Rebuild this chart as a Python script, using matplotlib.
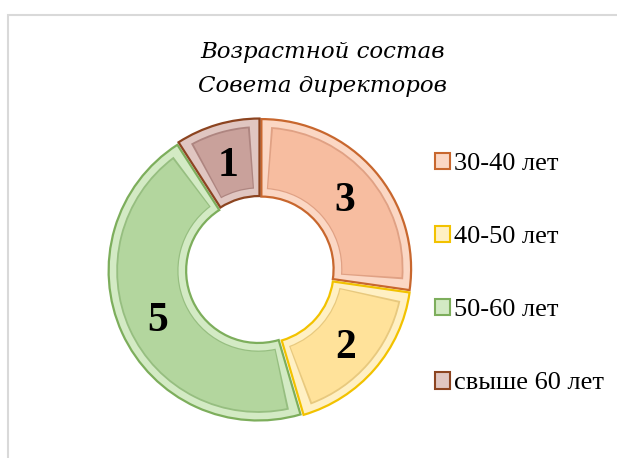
import numpy as np
import matplotlib
matplotlib.use('Agg')
from matplotlib import pyplot as plt
from matplotlib.patches import Wedge, Rectangle

labels  = ['30-40 лет', '40-50 лет', '50-60 лет', 'свыше 60 лет']
counts  = [3, 2, 5, 1]
faces   = ['#F7BDA0', '#FFE29A', '#B3D69E', '#C9A19B']
edges   = ['#C8672E', '#F2C200', '#7DAE5C', '#8C4420']
lights  = ['#FBD7C4', '#FFF0C4', '#D3EAC4', '#E0C6C1']
shades  = ['#E0A184', '#E8C97E', '#96BE80', '#AE8580']

title = 'Возрастной состав\nСовета директоров'

W, H = 617, 458
fig = plt.figure(figsize=(W/100, H/100), dpi=100)

# chart frame
fig.patches.append(Rectangle((8/W, -0.1), 1.2, (H-15)/H + 0.1, transform=fig.transFigure,
                             fill=False, edgecolor='#D9D9D9', linewidth=1.5))

cx, cy, R = 260, 270, 152
ax = fig.add_axes([(cx-R)/W, (H-cy-R)/H, 2*R/W, 2*R/H])

rout = 0.985
width = 0.51
wedges, _ = ax.pie(counts, radius=rout, startangle=90, counterclock=False,
                   colors=lights, explode=[0.012]*4,
                   wedgeprops=dict(width=width, edgecolor='none'))
ax.set_xlim(-1, 1)
ax.set_ylim(-1, 1)
ax.set_aspect('equal')
ax.axis('off')

for k, w in enumerate(wedges):
    w.set_edgecolor(edges[k])
    w.set_linewidth(1.6)
    c = w.center
    t1, t2 = w.theta1, w.theta2
    r_in = rout - width
    # inner bevel face
    ins = 0.05
    dth = np.degrees(ins / ((rout + r_in) / 2))
    ax.add_patch(Wedge(c, rout - ins, t1 + dth, t2 - dth, width=width - 2*ins,
                       facecolor=shades[k], edgecolor='none'))
    ax.add_patch(Wedge(c, rout - ins - 0.012, t1 + dth + 0.8, t2 - dth - 0.8,
                       width=width - 2*ins - 0.02, facecolor=faces[k], edgecolor='none'))
    # value label
    mid = np.radians((t1 + t2) / 2)
    rm = rout - width/2
    ax.text(c[0] + rm*np.cos(mid), c[1] + rm*np.sin(mid), str(counts[k]),
            ha='center', va='center_baseline', fontsize=30, fontweight='bold',
            family='Liberation Serif', color='black')

fig.text(323/W, 1 - 69/H, title, ha='center', va='center', fontsize=16.5,
         style='italic', family='DejaVu Serif', linespacing=1.75)

leg = fig.legend(wedges, labels, loc='upper left', bbox_to_anchor=(424/W, 1 - 142/H),
                 frameon=False, prop={'family': 'Liberation Serif', 'size': 19},
                 handlelength=0.6, handleheight=0.6, handletextpad=0.12,
                 labelspacing=1.91, borderaxespad=0)
for h, e in zip(leg.legend_handles, edges):
    h.set_edgecolor(e)
    h.set_linewidth(1.5)

fig.savefig('out.png', dpi=100)
